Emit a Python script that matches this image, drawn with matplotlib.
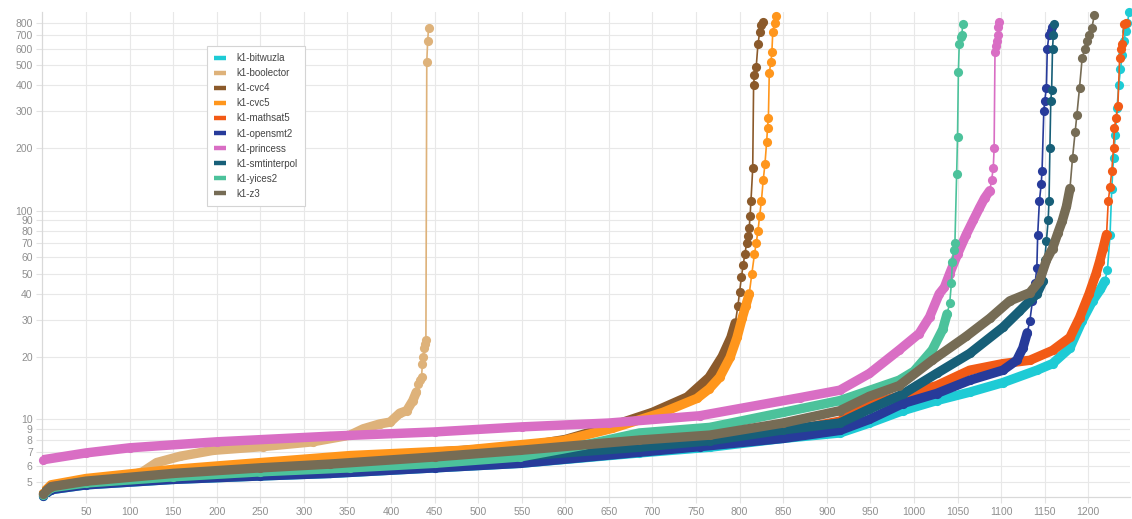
import numpy as np
import matplotlib
matplotlib.use("Agg")
import matplotlib.pyplot as plt
from matplotlib.lines import Line2D
from matplotlib.ticker import NullLocator, FixedLocator, FixedFormatter

plt.rcParams['font.family'] = ['Liberation Sans', 'DejaVu Sans']

# ---- solved-instance curves (index of solved instance, time) ----
bitwuzla_x = [1, 10, 50, 150, 250, 330, 450, 548, 685, 766, 850, 915, 949, 987, 1026, 1064, 1102, 1141,
              1159, 1179, 1193, 1205, 1214, 1219, 1222, 1225, 1227, 1229, 1231, 1233, 1235, 1237, 1239,
              1241, 1243, 1245, 1247]
bitwuzla_y = [4.3, 4.6, 4.85, 5.15, 5.35, 5.5, 5.85, 6.15, 6.9, 7.35, 8.1, 8.6, 9.6, 11.0, 12.3, 13.5, 15.0, 17.2,
              18.5, 22, 29.7, 37, 42, 46, 52, 77, 128, 180, 230, 310, 400, 480, 560,
              650, 730, 800, 900]

boolector_x = [1, 10, 50, 100, 115, 131, 158, 196, 253, 310, 353, 368, 387, 399, 410, 418, 425, 429, 431,
               433, 435, 436, 437, 438, 439, 440, 441, 442, 443]
boolector_y = [4.45, 4.75, 5.05, 5.35, 5.6, 6.2, 6.65, 7.1, 7.4, 7.8, 8.4, 9.0, 9.5, 9.7, 10.7, 11.0, 12.3, 13.5, 14.8,
               15.5, 16, 18.5, 20, 22, 23, 24, 520, 650, 750]

cvc4_x = [1, 10, 50, 150, 250, 350, 450, 550, 600, 650, 700, 740, 765, 780, 790, 795, 798, 800, 802, 804,
          806, 808, 810, 811, 812, 813, 815, 816, 817, 819, 821, 823, 825, 827]
cvc4_y = [4.45, 4.8, 5.1, 5.6, 6.05, 6.5, 6.95, 7.4, 8.0, 9.2, 10.8, 12.8, 15.9, 20, 24.7, 29, 35, 41, 48, 55,
          62, 70, 76, 83, 95, 112, 160, 400, 450, 490, 630, 720, 780, 810]

cvc5_x = [1, 10, 50, 150, 250, 353, 482, 597, 654, 712, 751, 765, 777, 789, 797, 803, 807, 811, 814, 817,
          819, 821, 823, 825, 827, 829, 831, 832, 833, 834, 836, 837, 838, 840, 842]
cvc5_y = [4.45, 4.85, 5.2, 5.75, 6.2, 6.7, 7.1, 7.9, 9.05, 10.8, 12.6, 14.0, 15.9, 19.8, 24.7, 30.7, 35, 40, 50, 62,
          70, 80, 95, 112, 140, 167, 215, 250, 280, 460, 520, 580, 720, 800, 860]

mathsat5_x = [1, 10, 50, 150, 250, 330, 450, 548, 685, 766, 850, 915, 949, 983, 1026, 1064, 1102, 1133, 1159,
              1179, 1190, 1201, 1209, 1213, 1217, 1221, 1223, 1225, 1227, 1229, 1230, 1232, 1234, 1236, 1238,
              1239, 1241, 1243]
mathsat5_y = [4.4, 4.75, 5.0, 5.35, 5.65, 5.9, 6.3, 6.7, 7.4, 7.9, 8.7, 9.8, 11.8, 12.9, 14.5, 17.2, 18.5, 19.2, 21.4,
              24.7, 30.7, 40, 50, 57, 66, 77, 112, 130, 156, 200, 250, 280, 320, 540, 600,
              630, 790, 800]

opensmt2_x = [1, 10, 50, 150, 250, 330, 450, 548, 685, 755, 850, 915, 949, 987, 1026, 1064, 1102, 1118, 1125,
              1130, 1133, 1136, 1139, 1141, 1142, 1144, 1146, 1147, 1149, 1150, 1152, 1153, 1155, 1157, 1158]
opensmt2_y = [4.3, 4.6, 4.85, 5.15, 5.35, 5.5, 5.85, 6.15, 6.95, 7.4, 8.1, 8.85, 10.0, 11.9, 13.3, 15.4, 17.2, 19.2, 22,
              26, 29.7, 37, 45, 53, 77, 112, 134, 156, 300, 335, 390, 600, 700, 730, 760]

princess_x = [1, 50, 100, 200, 330, 450, 550, 650, 754, 869, 915, 949, 983, 1006, 1018, 1029, 1035, 1041, 1050,
              1060, 1068, 1075, 1081, 1087, 1089, 1091, 1092, 1093, 1094, 1095, 1096, 1097, 1098]
princess_y = [6.4, 6.9, 7.3, 7.8, 8.3, 8.7, 9.2, 9.6, 10.4, 12.7, 13.8, 16.6, 21.5, 25.8, 31, 40, 43, 50, 62,
              77, 90, 103, 115, 125, 140, 160, 200, 580, 620, 650, 700, 760, 810]

smtinterpol_x = [1, 10, 50, 150, 250, 330, 450, 548, 685, 766, 850, 915, 949, 987, 1026, 1064, 1102, 1121, 1141,
                 1148, 1150, 1152, 1154, 1155, 1156, 1157, 1158, 1159, 1160, 1161]
smtinterpol_y = [4.4, 4.7, 4.95, 5.3, 5.6, 5.85, 6.25, 6.65, 7.35, 7.9, 8.9, 9.6, 11.2, 13.2, 16.6, 20.7, 27.6, 33, 40,
                 46, 58, 72, 90, 112, 200, 335, 380, 600, 700, 790]

yices2_x = [1, 10, 50, 150, 250, 353, 450, 548, 620, 685, 766, 850, 915, 983, 1000, 1021, 1033, 1038, 1041, 1043,
            1044, 1046, 1047, 1049, 1050, 1051, 1052, 1054, 1055, 1056]
yices2_y = [4.35, 4.7, 4.95, 5.3, 5.6, 5.85, 6.15, 6.6, 7.5, 8.6, 9.15, 10.8, 12.3, 15.4, 17, 21.5, 27, 32, 36, 45,
            57, 65, 70, 150, 225, 465, 630, 680, 700, 790]

z3_x = [1, 10, 50, 150, 250, 330, 450, 548, 685, 766, 850, 915, 949, 983, 1021, 1060, 1087, 1110, 1133, 1144,
        1152, 1159, 1165, 1170, 1175, 1179, 1182, 1185, 1187, 1190, 1193, 1196, 1198, 1201, 1204, 1207]
z3_y = [4.4, 4.75, 5.05, 5.5, 5.85, 6.1, 6.6, 7.1, 7.95, 8.4, 9.6, 11.0, 12.9, 14.5, 19.2, 25, 30.5, 37, 40.5, 46,
        58, 66, 78, 89, 105, 128, 180, 240, 290, 390, 540, 600, 650, 700, 750, 870]

solvers = ["k1-bitwuzla", "k1-boolector", "k1-cvc4", "k1-cvc5", "k1-mathsat5",
           "k1-opensmt2", "k1-princess", "k1-smtinterpol", "k1-yices2", "k1-z3"]
colors = ["#1ecbd5", "#deb27a", "#8b5a2b", "#ff961c", "#f25a16",
          "#273b9a", "#d96ec4", "#175f78", "#4cc29b", "#766c55"]
series = [(bitwuzla_x, bitwuzla_y), (boolector_x, boolector_y), (cvc4_x, cvc4_y), (cvc5_x, cvc5_y),
          (mathsat5_x, mathsat5_y), (opensmt2_x, opensmt2_y), (princess_x, princess_y),
          (smtinterpol_x, smtinterpol_y), (yices2_x, yices2_y), (z3_x, z3_y)]

y_ticks = [5, 6, 7, 8, 9, 10, 20, 30, 40, 50, 60, 70, 80, 90, 100, 200, 300, 400, 500, 600, 700, 800]
x_ticks = list(range(50, 1201, 50))

fig = plt.figure(figsize=(11.32, 5.19), dpi=100)
ax = fig.add_axes([0.0375, 0.0424, 0.9608, 0.9345])
ax.set_yscale("log")
ax.set_xlim(0, 1248)
ax.set_ylim(4.24, 900)


def draw_curve(xs, ys, color, z):
    xs = np.asarray(xs)
    ys = np.asarray(ys)
    gaps = np.diff(xs)
    # dense part of the curve: heavy band of overlapping dots
    i = 0
    while i < len(gaps):
        if gaps[i] >= 4:
            j = i
            while j < len(gaps) and gaps[j] >= 4:
                j += 1
            ax.plot(xs[i:j + 1], ys[i:j + 1], color=color, lw=6.8,
                    solid_capstyle="round", solid_joinstyle="round", zorder=z)
            i = j
        else:
            i += 1
    ax.plot(xs, ys, color=color, lw=1.2, marker="o", ms=6.6, mew=0, zorder=z, clip_on=False)


for k, ((xs, ys), c) in enumerate(zip(series, colors)):
    draw_curve(xs, ys, c, 3 + k)

ax.yaxis.set_major_locator(FixedLocator(y_ticks))
ax.yaxis.set_major_formatter(FixedFormatter([str(v) for v in y_ticks]))
ax.yaxis.set_minor_locator(NullLocator())
ax.set_xticks(x_ticks)
ax.set_xticklabels([str(v) for v in x_ticks])

ax.grid(True, color="#e8e8e8", lw=0.8, zorder=0)
ax.tick_params(axis="both", colors="#e3e3e3", length=4, width=0.8,
               labelcolor="#8f8f8f", labelsize=7.5, pad=3)
for s in ("top", "right"):
    ax.spines[s].set_visible(False)
for s in ("left", "bottom"):
    ax.spines[s].set_color("#d9d9d9")
    ax.spines[s].set_linewidth(0.9)

handles = [Line2D([], [], color=c, lw=3.2, solid_capstyle="butt") for c in colors]
leg = ax.legend(handles, solvers, loc="upper left", bbox_to_anchor=(0.1513, 0.93),
                borderaxespad=0, fontsize=7, frameon=True, fancybox=False, framealpha=1,
                edgecolor="#d4d4d4", handlelength=1.25, handletextpad=1.0,
                labelspacing=0.52, borderpad=0.75)
leg.get_frame().set_linewidth(0.8)
for t in leg.get_texts():
    t.set_color("#444444")
leg.set_zorder(20)

fig.savefig("out.png", dpi=100, facecolor="white")
